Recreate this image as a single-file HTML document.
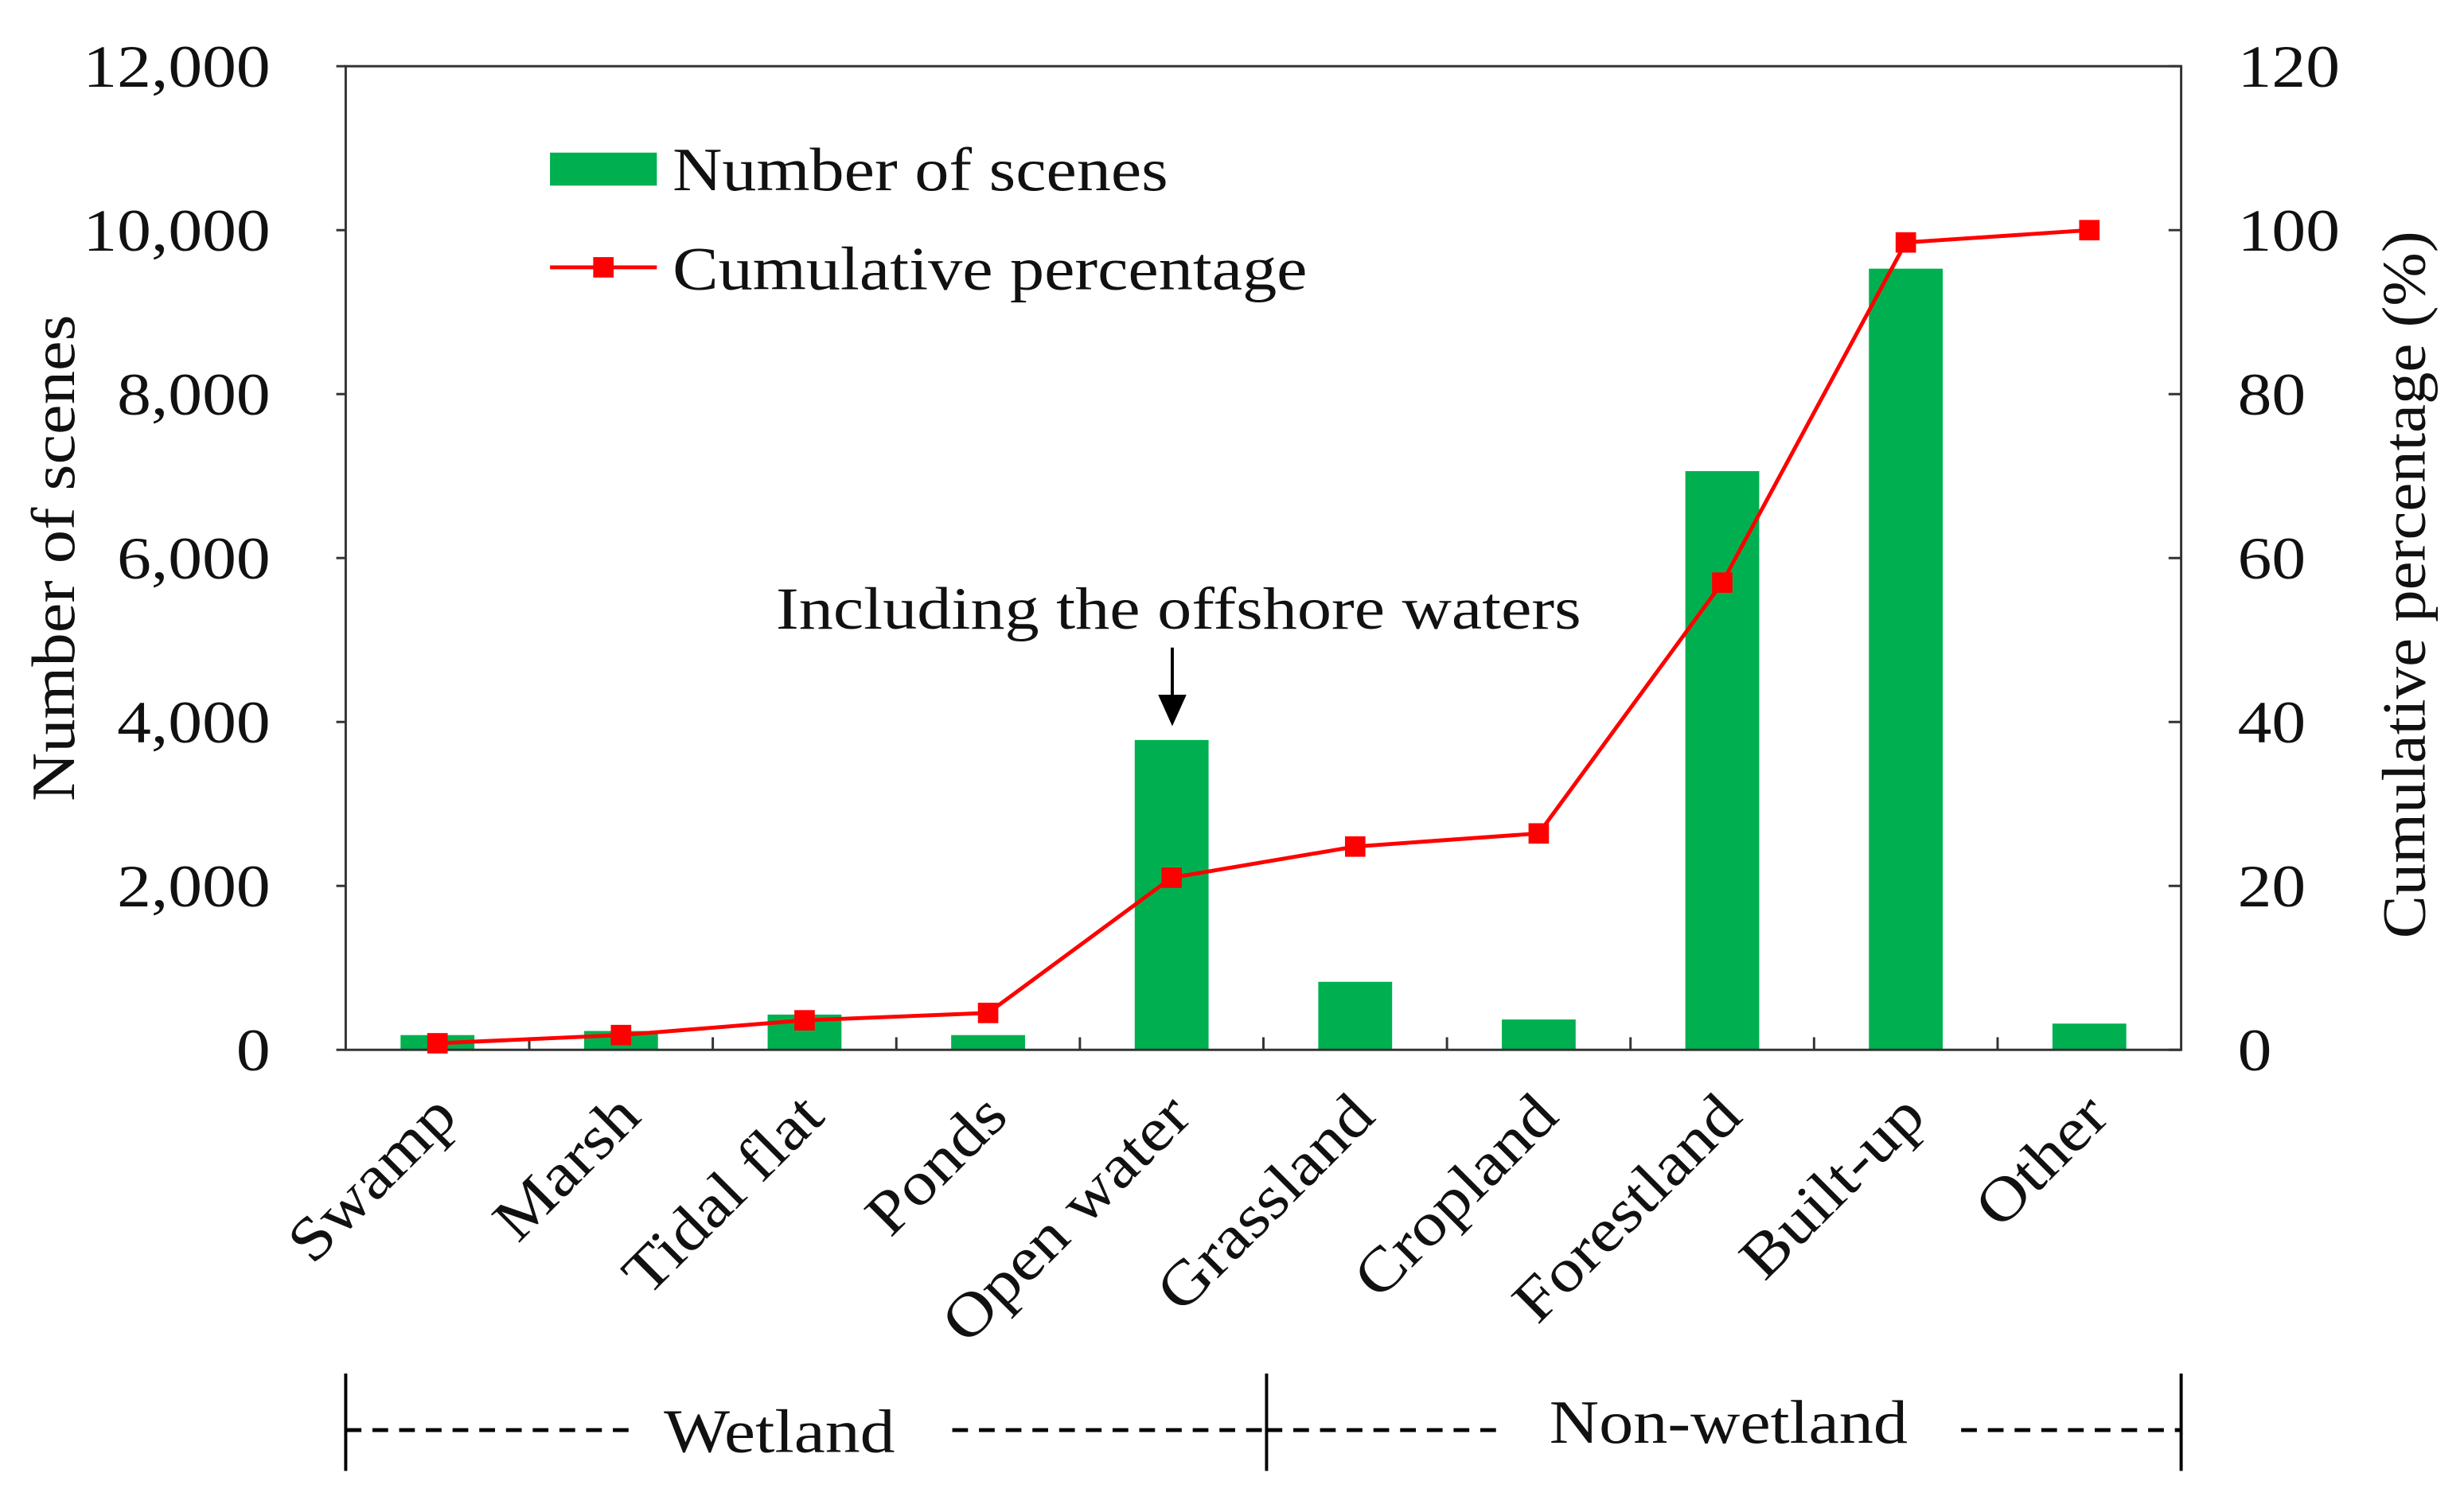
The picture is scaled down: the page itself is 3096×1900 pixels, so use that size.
<!DOCTYPE html>
<html><head><meta charset="utf-8"><style>
html,body{margin:0;padding:0;background:#fff}
svg{display:block}
text{font-family:"Liberation Serif",serif;fill:#111}
</style></head><body>
<svg id="chart" width="3096" height="1900" viewBox="0 0 1568 962" xmlns="http://www.w3.org/2000/svg">
<g id="g"></g>
</svg>
<script>
const categories=["Swamp","Marsh","Tidal flat","Ponds","Open water","Grassland","Cropland","Forestland","Built-up","Other"];
const sceneCounts=[180,230,430,180,3780,830,370,7060,9530,320];
const cumulativePct=[0.8,1.8,3.6,4.5,21,24.8,26.4,57,98.5,100];
const leftTicks=[0,2000,4000,6000,8000,10000,12000];
const rightTicks=[0,20,40,60,80,100,120];
const L=220,R=1388,T=42,B=668;
const n=categories.length,bw=(R-L)/n;
const xC=i=>L+bw*(i+0.5);
const yL=v=>B-(v/12000)*(B-T);
const yR=v=>B-(v/120)*(B-T);
const g=document.getElementById('g');
const NS="http://www.w3.org/2000/svg";
function mk(tag,attrs,txt){const e=document.createElementNS(NS,tag);for(const k in attrs)e.setAttribute(k,attrs[k]);if(txt!==undefined)e.textContent=txt;g.appendChild(e);return e;}
function stretch(t,f){const w=t.getComputedTextLength();t.setAttribute('textLength',w*f);t.setAttribute('lengthAdjust','spacingAndGlyphs');}
// bars
categories.forEach((c,i)=>{const v=sceneCounts[i];
const r=mk('rect',{x:xC(i)-23.5,y:yL(v),width:47,height:B-yL(v),fill:'#00b050'});

});
const fr=mk('rect',{x:L,y:T,width:R-L,height:B-T,fill:'none',stroke:'#333','stroke-width':1.5});


leftTicks.forEach(v=>{const y=yL(v);mk('line',{x1:L-6,x2:L,y1:y,y2:y,stroke:'#333','stroke-width':1.5});
const t=mk('text',{x:172,y:y+13,'text-anchor':'end','font-size':38},v.toLocaleString('en-US'));


stretch(t,1.14);});
rightTicks.forEach(v=>{const y=yR(v);mk('line',{x1:R-8,x2:R,y1:y,y2:y,stroke:'#333','stroke-width':1.5});
const t=mk('text',{x:1424,y:y+13,'font-size':38},String(v));


stretch(t,1.14);});
for(let i=1;i<n;i++){const x=L+bw*i;mk('line',{x1:x,x2:x,y1:B,y2:B-8,stroke:'#333','stroke-width':1.5});}
categories.forEach((c,i)=>{const x=xC(i)+14,y=712;
const t=mk('text',{x:x,y:y,'text-anchor':'end','font-size':39,transform:`rotate(-45 ${x} ${y})`},c);


stretch(t,1.13);});
const pts=cumulativePct.map((v,i)=>xC(i)+','+yR(v)).join(' ');
const pl=mk('polyline',{points:pts,fill:'none',stroke:'#ff0000','stroke-width':2.5});


cumulativePct.forEach((v,i)=>{const m=mk('rect',{x:xC(i)-6.5,y:yR(v)-6.5,width:13,height:13,fill:'#ff0000'});

});
const yt=mk('text',{x:0,y:0,'text-anchor':'middle','font-size':39,transform:'translate(47 355) rotate(-90)'},'Number of scenes');


stretch(yt,1.1);
const yt2=mk('text',{x:0,y:0,'text-anchor':'middle','font-size':39,transform:'translate(1543 372) rotate(-90)'},'Cumulative percentage (%)');


stretch(yt2,1.05);
const lb=mk('rect',{x:350,y:97,width:68,height:21,fill:'#00b050'});


const lt=mk('text',{x:428,y:121,'font-size':39},'Number of scenes');


stretch(lt,1.12);
mk('line',{x1:350,x2:418,y1:170,y2:170,stroke:'#ff0000','stroke-width':2.5});
mk('rect',{x:377.5,y:163.5,width:13,height:13,fill:'#ff0000'});
const lt2=mk('text',{x:428,y:184,'font-size':39},'Cumulative percentage');


stretch(lt2,1.12);
const an=mk('text',{x:750,y:400,'text-anchor':'middle','font-size':38},'Including the offshore waters');


stretch(an,1.15);
mk('line',{x1:746,x2:746,y1:412,y2:448,stroke:'#000','stroke-width':2});
const ar=mk('polygon',{points:'737,442 755,442 746,462',fill:'#000'});


[220,806,1388].forEach(x=>mk('line',{x1:x,x2:x,y1:874,y2:936,stroke:'#000','stroke-width':2}));
[[220,400],[606,806],[806,955],[1248,1388]].forEach(s=>mk('line',{x1:s[0],x2:s[1],y1:910,y2:910,stroke:'#000','stroke-width':2.5,'stroke-dasharray':'10 7'}));
const w=mk('text',{x:496,y:924,'text-anchor':'middle','font-size':39},'Wetland');


stretch(w,1.14);
const nw=mk('text',{x:1100,y:918,'text-anchor':'middle','font-size':39},'Non-wetland');


stretch(nw,1.12);
</script>
</body></html>
